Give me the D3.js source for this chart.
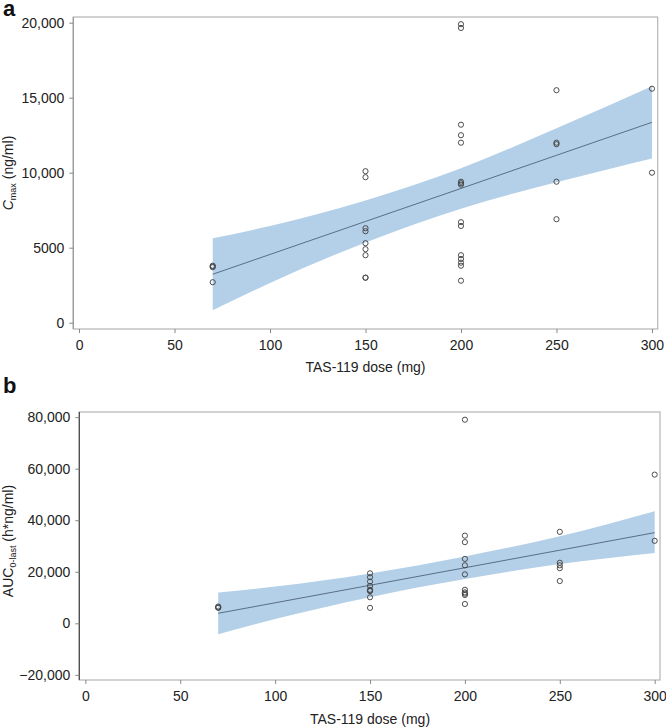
<!DOCTYPE html>
<html><head><meta charset="utf-8">
<script src="https://cdn.jsdelivr.net/npm/d3@7"></script>
<style>
body{margin:0;background:#fff;}
text{font-family:"Liberation Sans",Arial,Helvetica,sans-serif;}
</style></head>
<body><svg id="c" width="666" height="728"></svg>
<script>
// ---------- data ----------
const xTicks = [0, 50, 100, 150, 200, 250, 300];
const yTicksA = [0, 5000, 10000, 15000, 20000];
const yTicksB = [-20000, 0, 20000, 40000, 60000, 80000];

const cmaxDose  = [70,70,70,70, 150,150,150,150,150,150,150,150,150,
                   200,200,200,200,200,200,200,200,200,200,200,200,200,200,200,
                   250,250,250,250,250, 300,300];
const cmaxValue = [3800,3750,3700,2700, 10100,9700,6300,6100,5300,4900,4500,3000,3000,
                   19900,19650,13200,12500,12000,9400,9300,9200,6700,6450,4500,4250,4000,3800,2800,
                   15500,12000,11900,9400,6900, 15600,10000];

const aucDose  = [70,70,70, 150,150,150,150,150,150,150,150,150,
                  200,200,200,200,200,200,200,200,200,200,200,
                  250,250,250,250,250, 300,300];
const aucValue = [6500,6200,6000, 19400,17900,16200,14500,13000,12700,12500,10100,6000,
                  79000,34000,31500,25000,22500,19000,13000,12000,11500,11000,7500,
                  35500,23500,22500,21400,16400, 57700,32000];

const bandDose   = [70, 100, 150, 200, 250, 300];
const cmaxFit    = [3230, 4550, 6750, 8950, 11160, 13360];
const cmaxUpper  = [5630, 6450, 8150, 10300, 12960, 15770];
const cmaxLower  = [830, 2650, 5350, 7600, 9360, 10950];
const aucFit     = [3880, 7960, 14760, 21560, 28370, 35180];
const aucUpper   = [11950, 14260, 19360, 25960, 33770, 43500];
const aucLower   = [-4270, 1660, 10160, 17160, 22970, 27300];

// ---------- drawing ----------
const svg = d3.select("#c");
const FS = 14;

function panel(opt){
  const g = svg.append("g");
  const x = d3.scaleLinear().domain(opt.xd).range([opt.left, opt.right]);
  const y = d3.scaleLinear().domain(opt.yd).range([opt.bottom, opt.top]);

  const area = d3.area().x((d,i)=>x(bandDose[i])).y0((d,i)=>y(opt.lower[i])).y1((d,i)=>y(opt.upper[i]))
      .curve(d3.curveMonotoneX);
  g.append("path").datum(bandDose).attr("d", area).attr("fill", "#b3d0e8");
  const line = d3.line().x((d,i)=>x(bandDose[i])).y((d,i)=>y(opt.fit[i])).curve(d3.curveMonotoneX);
  g.append("path").datum(bandDose).attr("d", line).attr("fill","none")
      .attr("stroke","#4f6278").attr("stroke-width",0.9);

  g.append("rect").attr("x",opt.left).attr("y",opt.top)
   .attr("width",opt.right-opt.left).attr("height",opt.bottom-opt.top)
   .attr("fill","none").attr("stroke","#b5b5b5").attr("stroke-width",1.2);
  g.append("line").attr("x1",opt.left).attr("x2",opt.left).attr("y1",opt.top).attr("y2",opt.bottom)
   .attr("stroke",opt.leftColor).attr("stroke-width",1.2);

  g.selectAll("circle.p").data(opt.px).join("circle")
   .attr("cx",(d)=>x(d)).attr("cy",(d,i)=>y(opt.py[i])).attr("r",2.6)
   .attr("fill","none").attr("stroke","#454545").attr("stroke-width",0.95);

  const ya = d3.axisLeft(y).tickValues(opt.yTicks).tickSize(4).tickPadding(5)
      .tickFormat(opt.fmt);
  const yg = g.append("g").attr("transform",`translate(${opt.left},0)`).call(ya);
  yg.select(".domain").remove();
  yg.selectAll("line").attr("stroke","#888");
  yg.selectAll("text").attr("font-size",FS).attr("fill","#222")
    .attr("font-family",'"Liberation Sans",Arial,sans-serif');

  const xa = d3.axisBottom(x).tickValues(xTicks).tickSize(4).tickPadding(7);
  const xg = g.append("g").attr("transform",`translate(0,${opt.bottom})`).call(xa);
  xg.select(".domain").remove();
  xg.selectAll("line").attr("stroke","#888");
  xg.selectAll("text").attr("font-size",FS).attr("fill","#222")
    .attr("font-family",'"Liberation Sans",Arial,sans-serif');

  g.append("text").attr("x",(x(0)+x(300))/2).attr("y",opt.xTitleY)
   .attr("text-anchor","middle").attr("font-size",FS).attr("fill","#222").text("TAS-119 dose (mg)");

  g.append("text").attr("x",3).attr("y",opt.letterY).attr("font-size",22)
   .attr("font-weight","bold").attr("fill","#111").text(opt.letter);
  return {g,x,y};
}

const fmtA = d => d===0 ? "0" : (Math.abs(d)<10000 ? String(d) : d3.format(",")(d));
const fmtB = d => d===0 ? "0" : d3.format(",")(d).replace("-", "\u2212");

const A = panel({xd:[-3,303], yd:[-420,20380], left:73.3, right:657.7, top:17, bottom:329,
  lower:cmaxLower, upper:cmaxUpper, fit:cmaxFit, px:cmaxDose, py:cmaxValue,
  yTicks:yTicksA, fmt:fmtA, leftColor:"#9a9a9a", xTitleY:372, letter:"a", letterY:16});
const yTA = A.g.append("text").attr("transform","translate(13,173) rotate(-90)")
  .attr("text-anchor","middle").attr("font-size",FS).attr("fill","#222");
yTA.append("tspan").attr("font-style","italic").text("C");
yTA.append("tspan").attr("font-size",9).attr("dy",3).text("max");
yTA.append("tspan").attr("dy",-3).text(" (ng/ml)");

const B = panel({xd:[-3.2,302.8], yd:[-22000,82000], left:79.3, right:660, top:412, bottom:680,
  lower:aucLower, upper:aucUpper, fit:aucFit, px:aucDose, py:aucValue,
  yTicks:yTicksB, fmt:fmtB, leftColor:"#444", xTitleY:724, letter:"b", letterY:393});
const yTB = B.g.append("text").attr("transform","translate(13,541) rotate(-90)")
  .attr("text-anchor","middle").attr("font-size",FS).attr("fill","#222");
yTB.append("tspan").text("AUC");
yTB.append("tspan").attr("font-size",9).attr("dy",3).text("0-last");
yTB.append("tspan").attr("dy",-3).text(" (h*ng/ml)");
</script></body></html>
